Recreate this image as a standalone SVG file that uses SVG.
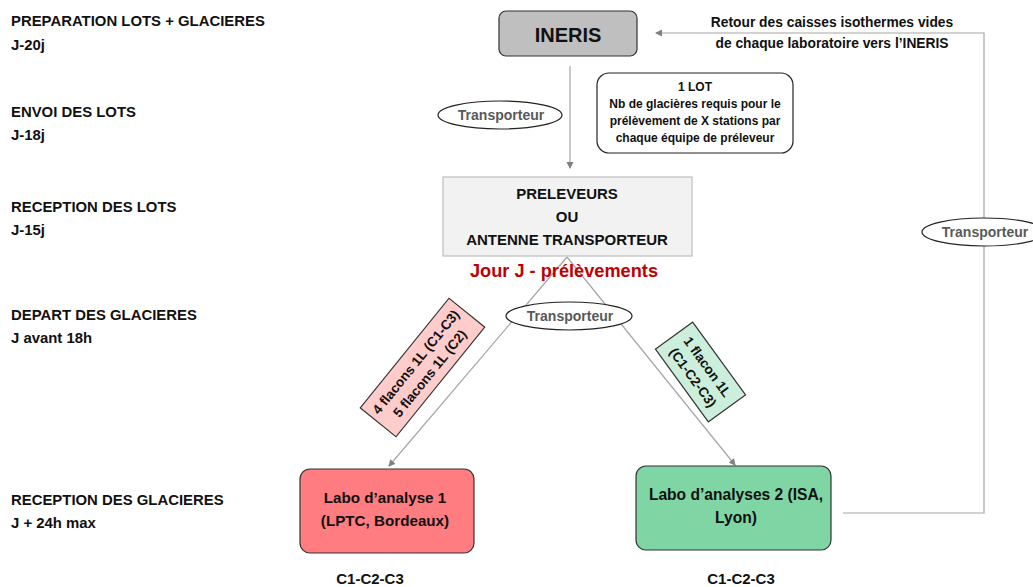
<svg xmlns="http://www.w3.org/2000/svg" width="1033" height="587" viewBox="0 0 1033 587">
<style>
text{font-family:"Liberation Sans",Arial,sans-serif;font-weight:bold}
.lbl{font-size:14.9px;fill:#111}
.tr{font-size:14px;fill:#595959;text-anchor:middle}
.ell{fill:#fff;stroke:#222;stroke-width:1.2}
.c{text-anchor:middle}
.ln{fill:none;stroke:#a6a6a6;stroke-width:1.2}
</style>
<defs>
<marker id="ah" markerWidth="8" markerHeight="8" refX="6" refY="4" orient="auto" markerUnits="userSpaceOnUse">
<path d="M0,0.5 L7,4 L0,7.5 Z" fill="#7f7f7f"/>
</marker>
</defs>
<g id="phases">
<text class="lbl" x="11" y="26">PREPARATION LOTS + GLACIERES</text>
<text class="lbl" x="11" y="50">J-20j</text>
<text class="lbl" x="11" y="117">ENVOI DES LOTS</text>
<text class="lbl" x="11" y="140">J-18j</text>
<text class="lbl" x="11" y="212">RECEPTION DES LOTS</text>
<text class="lbl" x="11" y="235">J-15j</text>
<text class="lbl" x="11" y="320">DEPART DES GLACIERES</text>
<text class="lbl" x="11" y="343">J avant 18h</text>
<text class="lbl" x="11" y="505">RECEPTION DES GLACIERES</text>
<text class="lbl" x="11" y="528">J + 24h max</text>
</g>
<g id="connectors">
<line class="ln" x1="570" y1="66" x2="570" y2="168" marker-end="url(#ah)"/>
<line class="ln" x1="567" y1="257" x2="389" y2="466" marker-end="url(#ah)"/>
<line class="ln" x1="567" y1="257" x2="735" y2="465" marker-end="url(#ah)"/>
<polyline class="ln" points="843,513 984,513 984,33 656,33" marker-end="url(#ah)"/>
</g>
<g id="ineris">
<rect x="499" y="11" width="138" height="45" rx="7" fill="#bfbfbf" stroke="#333" stroke-width="1.2"/>
<text class="c" x="568" y="42" font-size="20" fill="#111">INERIS</text>
</g>
<g id="retour-label">
<text class="c" x="832" y="27" font-size="13.8" fill="#111">Retour des caisses isothermes vides</text>
<text class="c" x="832" y="48" font-size="13.8" fill="#111">de chaque laboratoire vers l’INERIS</text>
</g>
<g id="lot">
<rect x="597" y="73" width="196" height="80" rx="12" fill="#fff" stroke="#222" stroke-width="1.2"/>
<text class="c" x="695" y="91" font-size="12" fill="#111">1 LOT</text>
<text class="c" x="695" y="108" font-size="12" fill="#111">Nb de glacières requis pour le</text>
<text class="c" x="695" y="125" font-size="12" fill="#111">prélèvement de X stations par</text>
<text class="c" x="695" y="142" font-size="12" fill="#111">chaque  équipe de préleveur</text>
</g>
<g id="transporteur1">
<ellipse class="ell" cx="500" cy="115" rx="62" ry="14"/>
<text class="tr" x="501" y="120">Transporteur</text>
</g>
<g id="preleveurs">
<rect x="443" y="177" width="249" height="79" fill="#f2f2f2" stroke="#bfbfbf" stroke-width="1.2"/>
<text class="c" x="567" y="199" font-size="15" fill="#111">PRELEVEURS</text>
<text class="c" x="567" y="222" font-size="15" fill="#111">OU</text>
<text class="c" x="567" y="245" font-size="15" fill="#111">ANTENNE TRANSPORTEUR</text>
</g>
<g id="jourj">
<text class="c" x="564" y="277" font-size="18.2" fill="#c00000">Jour J - prélèvements</text>
</g>
<g id="transporteur2">
<ellipse class="ell" cx="569" cy="316" rx="63" ry="14"/>
<text class="tr" x="570" y="321">Transporteur</text>
</g>
<g id="flacons1" transform="translate(422.5,367.5) rotate(-51)">
<rect x="-70.5" y="-23" width="141" height="46" fill="#ffcccc" stroke="#333" stroke-width="1.2"/>
<text class="c" x="0" y="-4" font-size="13.5" fill="#111">4 flacons 1L (C1-C3)</text>
<text class="c" x="0" y="14" font-size="13.5" fill="#111">5 flacons 1L (C2)</text>
</g>
<g id="flacons2" transform="translate(700.5,372) rotate(54)">
<rect x="-45" y="-23" width="90" height="46" fill="#ccefdc" stroke="#333" stroke-width="1.2"/>
<text class="c" x="0" y="-4" font-size="13.5" fill="#111">1 flacon 1L</text>
<text class="c" x="0" y="14" font-size="13.5" fill="#111">(C1-C2-C3)</text>
</g>
<g id="transporteur3">
<ellipse class="ell" cx="984" cy="232" rx="62" ry="14"/>
<text class="tr" x="985" y="237">Transporteur</text>
</g>
<g id="labo1">
<rect x="300" y="469" width="174" height="84" rx="10" fill="#ff7c80" stroke="#333" stroke-width="1.2"/>
<text class="c" x="385" y="503" font-size="15.2" fill="#111">Labo d’analyse 1</text>
<text class="c" x="385" y="526" font-size="15.2" fill="#111">(LPTC, Bordeaux)</text>
<text class="c" x="370" y="584" font-size="15" fill="#111">C1-C2-C3</text>
</g>
<g id="labo2">
<rect x="636" y="466" width="195" height="84" rx="10" fill="#7fd5a4" stroke="#333" stroke-width="1.2"/>
<text class="c" x="736" y="500" font-size="15.6" fill="#111">Labo d’analyses 2 (ISA,</text>
<text class="c" x="736" y="523" font-size="15.6" fill="#111">Lyon)</text>
<text class="c" x="741" y="584" font-size="15" fill="#111">C1-C2-C3</text>
</g>
</svg>
